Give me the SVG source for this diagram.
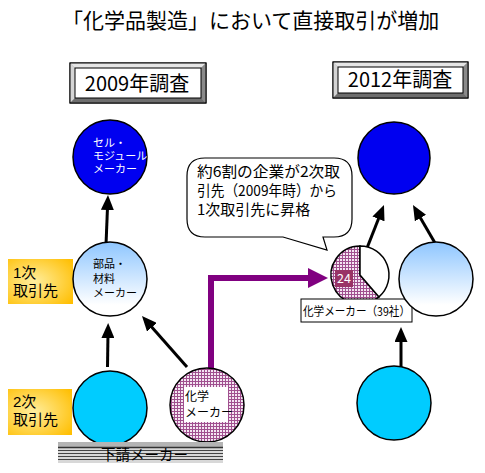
<svg xmlns="http://www.w3.org/2000/svg" width="485" height="473" viewBox="0 0 485 473">
<style>
  text { font-family: "Noto Sans CJK JP", "Noto Sans", sans-serif; fill: #000; }
  text.tight { font-family: "Liberation Sans", "Noto Sans CJK JP", sans-serif; }
  .circ { stroke: #000; stroke-width: 1.5; }
  .arrow { stroke: #000; stroke-width: 3; fill: none; marker-end: url(#ah); }
  .frameO { fill: #b0b0b0; stroke: #000; stroke-width: 1; }
  .frameI { fill: #fff; stroke: #000; stroke-width: 1; }
</style>
<defs>
  <marker id="ah" viewBox="0 0 15 13" refX="5" refY="6.5" markerWidth="15" markerHeight="13" markerUnits="userSpaceOnUse" orient="auto">
    <path d="M0,0 L15,6.5 L0,13 Z" fill="#000"/>
  </marker>
  <linearGradient id="lb" x1="0" y1="0" x2="0" y2="1">
    <stop offset="0" stop-color="#8EC6FF"/>
    <stop offset="0.85" stop-color="#FFFFFF"/>
  </linearGradient>
  <radialGradient id="gold" cx="0.4" cy="0.5" r="0.75">
    <stop offset="0" stop-color="#FFEE9E"/>
    <stop offset="1" stop-color="#FFBE00"/>
  </radialGradient>
  <pattern id="chk" width="3" height="3" patternUnits="userSpaceOnUse">
    <rect width="3" height="3" fill="#F4E6F2"/>
    <rect width="3" height="1" fill="#A0508F"/>
    <rect width="1" height="3" fill="#A0508F"/>
  </pattern>
</defs>

<text x="62" y="28" font-size="21">「化学品製造」において直接取引が増加</text>

<g id="header2009">
  <rect class="frameO" x="70" y="63" width="136" height="40"/>
  <polygon points="70,63 206,63 201,68 75,68" fill="#e6e6e6"/>
  <polygon points="70,63 75,68 75,98 70,103" fill="#d4d4d4"/>
  <polygon points="206,63 206,103 201,98 201,68" fill="#8a8a8a"/>
  <polygon points="70,103 206,103 201,98 75,98" fill="#6e6e6e"/>
  <rect x="70" y="63" width="136" height="40" fill="none" stroke="#000"/>
  <rect class="frameI" x="75" y="68" width="126" height="30"/>
  <text x="137" y="91" font-size="20" text-anchor="middle">2009年調査</text>
</g>

<g id="header2012">
  <rect class="frameO" x="333" y="62" width="135" height="36"/>
  <polygon points="333,62 468,62 463,67 338,67" fill="#e6e6e6"/>
  <polygon points="333,62 338,67 338,93 333,98" fill="#d4d4d4"/>
  <polygon points="468,62 468,98 463,93 463,67" fill="#8a8a8a"/>
  <polygon points="333,98 468,98 463,93 338,93" fill="#6e6e6e"/>
  <rect x="333" y="62" width="135" height="36" fill="none" stroke="#000"/>
  <rect class="frameI" x="338" y="67" width="125" height="26"/>
  <text x="400" y="87" font-size="20" text-anchor="middle">2012年調査</text>
</g>

<g id="label1ji">
  <rect x="8" y="259" width="65" height="45" fill="url(#gold)"/>
  <text class="tight" font-size="15"><tspan x="13" y="278">1次</tspan><tspan x="13" y="296">取引先</tspan></text>
</g>

<g id="label2ji">
  <rect x="8" y="389" width="64" height="46" fill="url(#gold)"/>
  <text class="tight" font-size="15"><tspan x="13" y="407">2次</tspan><tspan x="13" y="424.5">取引先</tspan></text>
</g>

<g id="connectors">
  <line class="arrow" x1="106" y1="245" x2="107.6" y2="205"/>
  <line class="arrow" x1="107.5" y1="367" x2="108" y2="333"/>
  <line class="arrow" x1="187" y1="367" x2="148.6" y2="323.5"/>
  <line class="arrow" x1="367" y1="248" x2="380.3" y2="214.3"/>
  <line class="arrow" x1="435" y1="243" x2="418" y2="213.7"/>
  <line class="arrow" x1="401" y1="367" x2="401" y2="337"/>
  <polyline points="211,369 211,278 310,278" fill="none" stroke="#800080" stroke-width="6"/>
  <polygon points="308,268 328,278 308,288" fill="#800080"/>
</g>

<g id="cellModuleMaker2009">
  <circle class="circ" cx="110" cy="157" r="37" fill="#0000F0"/>
  <text class="tight" font-size="11" style="fill:#fff"><tspan x="93" y="147">セル・</tspan><tspan x="93" y="160">モジュール</tspan><tspan x="93" y="173">メーカー</tspan></text>
</g>

<g id="partsMaker2009">
  <circle class="circ" cx="110" cy="279" r="37" fill="url(#lb)"/>
  <text class="tight" font-size="11"><tspan x="93" y="268">部品・</tspan><tspan x="93" y="283">材料</tspan><tspan x="93" y="297">メーカー</tspan></text>
</g>

<g id="subMaker2009">
  <circle class="circ" cx="110" cy="408" r="37" fill="#00CCFF"/>
</g>

<g id="chemMaker2009">
  <circle class="circ" cx="207" cy="405" r="37" fill="url(#chk)"/>
  <rect x="184" y="387" width="44" height="35" fill="#fff"/>
  <text class="tight" font-size="12"><tspan x="185" y="401">化学</tspan><tspan x="185" y="417">メーカー</tspan></text>
</g>

<g id="subcontractorBar">
  <rect x="58" y="442" width="165" height="21" fill="#d8d8d8"/>
  <rect x="58" y="442" width="165" height="5" fill="#b4b4b4"/>
  <g stroke="#333" stroke-width="0.9">
    <line x1="58" y1="447.5" x2="223" y2="447.5" stroke-width="1.6"/>
    <line x1="58" y1="450.5" x2="223" y2="450.5"/>
    <line x1="58" y1="453.5" x2="223" y2="453.5"/>
    <line x1="58" y1="456.5" x2="223" y2="456.5"/>
    <line x1="58" y1="459.5" x2="223" y2="459.5"/>
  </g>
  <text x="144.5" y="460" font-size="14.5" text-anchor="middle">下請メーカー</text>
</g>

<g id="bubble">
  <path d="M205,158 H334 Q352,158 352,176 V219 Q352,237 334,237 H323 L327,250 L283,237 H205 Q187,237 187,219 V176 Q187,158 205,158 Z" fill="#fff" stroke="#000" stroke-width="1.2"/>
  <text x="197" y="177" font-size="15" textLength="143" lengthAdjust="spacingAndGlyphs">約6割の企業が2次取</text>
  <text x="197" y="196" font-size="15" textLength="140" lengthAdjust="spacingAndGlyphs">引先（2009年時）から</text>
  <text x="197" y="215" font-size="15">1次取引先に昇格</text>
</g>

<g id="cellModuleMaker2012">
  <circle class="circ" cx="394" cy="158" r="36" fill="#0000F0"/>
</g>

<g id="chemMaker2012">
  <path d="M360,275 L379,296.9 A29,29 0 1,1 360,246 Z" fill="url(#chk)" stroke="#000" stroke-width="1.5"/>
  <path d="M360,275 L360,246 A29,29 0 0,1 379,296.9 Z" fill="#fff" stroke="#000" stroke-width="1.5"/>
  <rect x="335" y="270" width="18" height="17" fill="#993366"/>
  <text x="344" y="283" font-size="12.5" text-anchor="middle" style="fill:#fff">24</text>
  <rect x="301" y="299" width="111" height="23" fill="#fff" stroke="#000" stroke-width="1"/>
  <text x="303" y="316" font-size="12" textLength="107" lengthAdjust="spacingAndGlyphs">化学メーカー（39社）</text>
</g>

<g id="partsMaker2012">
  <circle class="circ" cx="436" cy="279" r="37" fill="url(#lb)"/>
</g>

<g id="subMaker2012">
  <circle class="circ" cx="394" cy="403" r="37" fill="#00CCFF"/>
</g>
</svg>
